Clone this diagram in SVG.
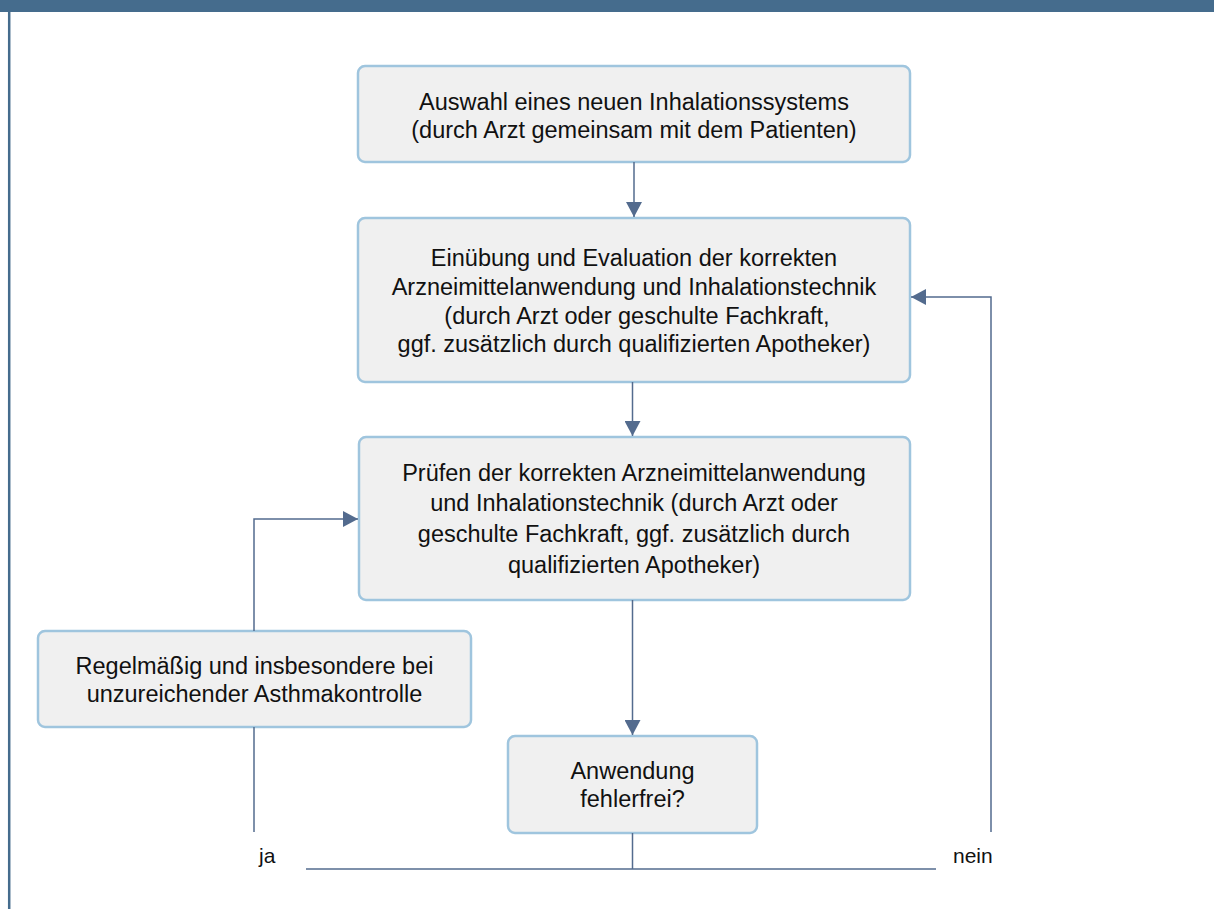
<svg xmlns="http://www.w3.org/2000/svg" width="1214" height="909" viewBox="0 0 1214 909">
<style>
.box{fill:#f0f0f0;stroke:#9fc5de;stroke-width:2.5}
.t{font-family:"Liberation Sans",Arial,sans-serif;font-size:23.5px;fill:#111;text-anchor:middle}
.lbl{font-family:"Liberation Sans",Arial,sans-serif;font-size:21px;fill:#111}
.c{fill:none;stroke:#536b8e;stroke-width:1.5}
</style>
<defs>
<marker id="ah" viewBox="0 0 15 16" refX="15" refY="8" markerWidth="15" markerHeight="16" markerUnits="userSpaceOnUse" orient="auto">
<path d="M0,0 L15,8 L0,16 Z" fill="#536b8e"/>
</marker>
</defs>
<rect x="0" y="0" width="1214" height="12" fill="#456c8d"/>
<line x1="9.2" y1="12" x2="9.2" y2="909" stroke="#456c8d" stroke-width="2.5"/>
<g id="n1">
<rect class="box" x="358" y="66" width="552" height="96" rx="7"/>
<text class="t" x="634" y="110">Auswahl eines neuen Inhalationssystems</text>
<text class="t" x="634" y="138">(durch Arzt gemeinsam mit dem Patienten)</text>
</g>
<g id="n2">
<rect class="box" x="358" y="218" width="552" height="164" rx="7"/>
<text class="t" x="634" y="265.5">Einübung und Evaluation der korrekten</text>
<text class="t" x="634" y="294.5">Arzneimittelanwendung und Inhalationstechnik</text>
<text class="t" x="637" y="323.5">(durch Arzt oder geschulte Fachkraft,</text>
<text class="t" x="634" y="352">ggf. zusätzlich durch qualifizierten Apotheker)</text>
</g>
<g id="n3">
<rect class="box" x="359" y="437" width="551" height="163" rx="7"/>
<text class="t" x="634" y="480.5">Prüfen der korrekten Arzneimittelanwendung</text>
<text class="t" x="634" y="511">und Inhalationstechnik (durch Arzt oder</text>
<text class="t" x="634" y="541.5">geschulte Fachkraft, ggf. zusätzlich durch</text>
<text class="t" x="634" y="572.5">qualifizierten Apotheker)</text>
</g>
<g id="n4">
<rect class="box" x="38" y="631" width="433" height="96" rx="7"/>
<text class="t" x="254.5" y="673.5">Regelmäßig und insbesondere bei</text>
<text class="t" x="254.5" y="702">unzureichender Asthmakontrolle</text>
</g>
<g id="n5">
<rect class="box" x="508" y="736" width="249" height="97" rx="7"/>
<text class="t" x="632.5" y="779">Anwendung</text>
<text class="t" x="632.5" y="807">fehlerfrei?</text>
</g>
<g id="connectors">
<line class="c" x1="634" y1="162" x2="634" y2="217" marker-end="url(#ah)"/>
<line class="c" x1="632.5" y1="382" x2="632.5" y2="436" marker-end="url(#ah)"/>
<line class="c" x1="632.5" y1="600" x2="632.5" y2="735" marker-end="url(#ah)"/>
<polyline class="c" points="254,631 254,519 358,519" marker-end="url(#ah)"/>
<polyline class="c" points="991,832 991,297 911,297" marker-end="url(#ah)"/>
<line class="c" x1="254" y1="727" x2="254" y2="832"/>
<line class="c" x1="632.5" y1="833" x2="632.5" y2="869"/>
<line class="c" x1="306" y1="869" x2="936" y2="869"/>
<text class="lbl" x="259" y="863">ja</text>
<text class="lbl" x="953" y="863">nein</text>
</g>
</svg>
